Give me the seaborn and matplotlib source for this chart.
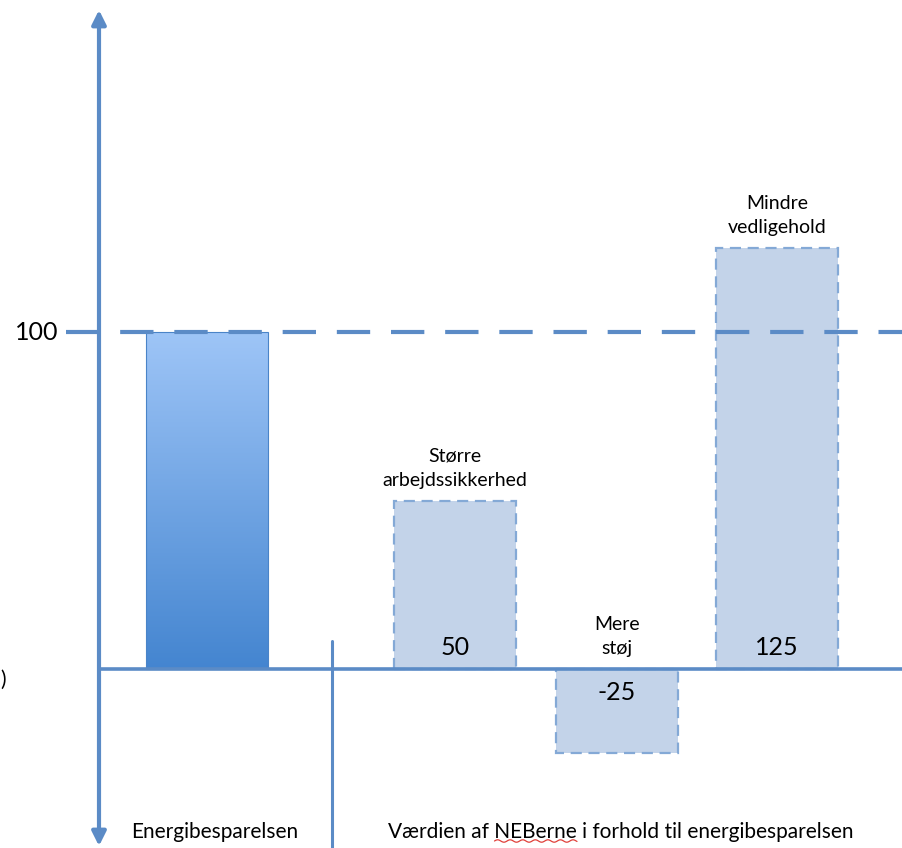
import numpy as np
import pandas as pd
import matplotlib
matplotlib.use("Agg")
import matplotlib.pyplot as plt
import seaborn as sns

# values (energy saving = 100)
categories = ["Energibesparelsen", "Større\narbejdssikkerhed", "Mere\nstøj", "Mindre\nvedligehold"]
values = [100, 50, -25, 125]
value_labels = ["", "50", "-25", "125"]
group_labels = ["Energibesparelsen", "Værdien af NEBerne i forhold til energibesparelsen"]
reference_level = 100

# layout: bar centres in pixel-like x units
positions = [207, 455, 617, 777]

sns.set_theme(style="white")
plt.rcParams["font.family"] = ["Lato", "DejaVu Sans"]

axis_col = "#5B8BC6"
fill_col = "#C3D3E9"
edge_col = "#84A9D6"

df = pd.DataFrame({"label": categories, "value": values, "pos": positions})

fig = plt.figure(figsize=(9.02, 8.48), dpi=100)
ax = fig.add_axes([0, 0, 1, 1])

px_per_unit = 3.37
zero_px = 669


def v(py):
    return (zero_px - py) / px_per_unit


sns.barplot(data=df, x="pos", y="value", hue="label", native_scale=True,
            palette=[fill_col] * 4, width=122 / 160, errorbar=None,
            legend=False, ax=ax, zorder=2)

ax.set_xlim(0, 902)
ax.set_ylim(v(848), v(0))
ax.set_axis_off()

bars = sorted(ax.patches, key=lambda p: p.get_x())

# first bar: solid gradient blue, light at the top
b0 = bars[0]
x0, w0, h0 = b0.get_x(), b0.get_width(), b0.get_height()
grad = np.linspace(0, 1, 256).reshape(-1, 1)
cmap = matplotlib.colors.LinearSegmentedColormap.from_list("g", ["#9EC5F7", "#4485D0"])
b0.set_facecolor("none")
b0.set_edgecolor("#4A84C8")
b0.set_linewidth(0.8)
im = ax.imshow(grad, cmap=cmap, aspect="auto", extent=(x0, x0 + w0, 0, h0),
               origin="upper", zorder=1.5)
im.set_clip_path(b0)

# NEB bars: light fill with dashed outline
for b in bars[1:]:
    b.set_facecolor(fill_col)
    b.set_edgecolor(edge_col)
    b.set_linewidth(1.6)
    b.set_linestyle((0, (5, 3)))

# axes drawn as in the sketch
ax.annotate("", xy=(99, v(10)), xytext=(99, v(846)),
            arrowprops=dict(arrowstyle="<|-|>,head_length=0.7,head_width=0.35",
                            color=axis_col, lw=3, shrinkA=0, shrinkB=0), zorder=4)
ax.plot([99, 902], [0, 0], color=axis_col, lw=2.6, zorder=3, solid_capstyle="butt")
ax.plot([66, 902], [reference_level, reference_level], color=axis_col, lw=3,
        dashes=(8, 5), zorder=3)
ax.plot([332, 332], [v(641), v(848)], color=axis_col, lw=2.2, zorder=3)

ax.text(58, reference_level, str(reference_level), ha="right", va="center",
        fontsize=18, color="black")
ax.text(0, v(680), ")", ha="left", va="center", fontsize=15, color="black")

for pos, val, lab in zip(positions, values, value_labels):
    if lab:
        y = 6.3 if val > 0 else -7
        ax.text(pos, y, lab, ha="center", va="center", fontsize=18, color="black", zorder=5)

for pos, val, cat in zip(positions[1:], values[1:], categories[1:]):
    top = max(val, 0)
    ax.text(pos, top + 3.5, cat, ha="center", va="bottom", fontsize=14,
            color="black", linespacing=1.5)

ax.text(215, v(832), group_labels[0], ha="center", va="center", fontsize=15, color="black")
t2 = ax.text(621, v(832), group_labels[1], ha="center", va="center", fontsize=15, color="black")

# red spell-check squiggle under "NEBerne"
fig.canvas.draw()
r = fig.canvas.get_renderer()
full = t2.get_window_extent(r)
probe = ax.text(0, 0, "Værdien af ", fontsize=15)
pre_w = probe.get_window_extent(r).width
probe.set_text("NEBerne")
word_w = probe.get_window_extent(r).width
probe.remove()
sx = np.linspace(full.x0 + pre_w, full.x0 + pre_w + word_w, 120)
sy = full.y0 + 1.0 + 1.2 * np.sin((sx - sx[0]) / 2.0)
inv = ax.transData.inverted()
pts = inv.transform(np.column_stack([sx, sy]))
ax.plot(pts[:, 0], pts[:, 1], color="#E0403A", lw=0.9, zorder=5)

fig.savefig("out.png", dpi=100)
